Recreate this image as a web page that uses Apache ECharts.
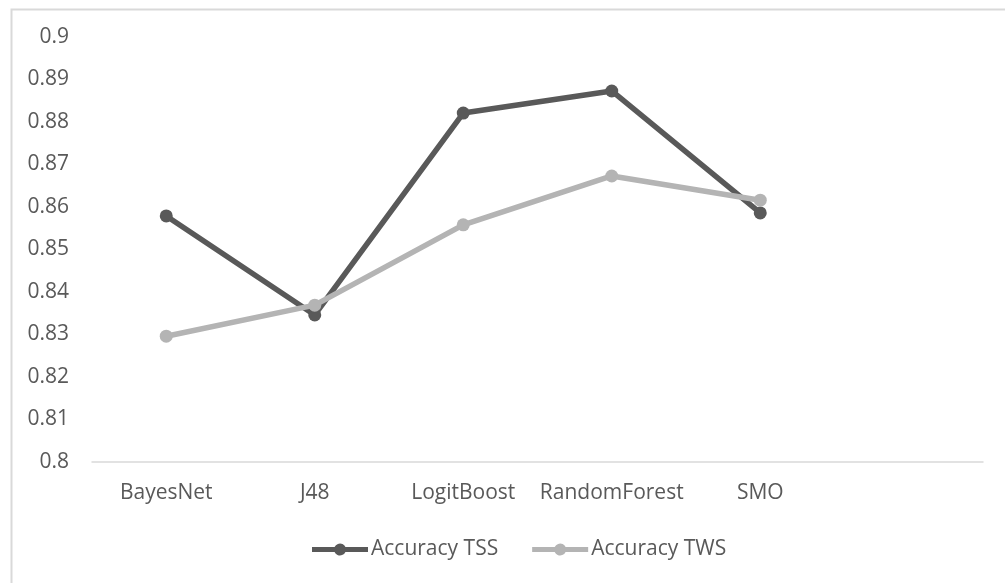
<!DOCTYPE html>
<html>
<head>
<meta charset="utf-8">
<script src="https://cdn.jsdelivr.net/npm/echarts@6/dist/echarts.min.js"></script>
<style>
html,body{margin:0;padding:0;background:#fff;}
#chart{width:1005px;height:583px;}
</style>
</head>
<body>
<div id="chart"></div>
<script>
const categories = ['BayesNet', 'J48', 'LogitBoost', 'RandomForest', 'SMO', ''];
const accuracyTSS = [0.8579, 0.8346, 0.8821, 0.8873, 0.8586];
const accuracyTWS = [0.8296, 0.8369, 0.8558, 0.8673, 0.8616];
const seriesNames = ['Accuracy TSS', 'Accuracy TWS'];
const yMin = 0.8, yMax = 0.9, yInterval = 0.01;

const FONT = '"Open Sans", "Noto Sans", sans-serif';
const ICON = 'path://M0,3.5 L22.55,3.5 A6,6 0 0 1 33.45,3.5 L56,3.5 L56,8.5 L33.45,8.5 A6,6 0 0 1 22.55,8.5 L0,8.5 Z';
const chart = echarts.init(document.getElementById('chart'), null, {renderer: 'canvas'});
chart.setOption({
  animation: false,
  backgroundColor: '#ffffff',
  graphic: [{
    type: 'rect', left: 9, top: 7, silent: true,
    shape: {width: 1100, height: 700},
    style: {fill: 'none', stroke: '#d9d9d9', lineWidth: 2}
  }],
  grid: {left: 92, right: 22, top: 37, bottom: 121, containLabel: false},
  legend: {
    top: 534, left: 307, itemGap: 34, itemWidth: 56, itemHeight: 12,
    icon: ICON,
    textStyle: {fontFamily: FONT, fontSize: 21, color: '#595959', padding: [0,0,0,-2]},
    data: seriesNames
  },
  xAxis: {
    type: 'category', data: categories, boundaryGap: true,
    axisLine: {lineStyle: {color: '#d9d9d9', width: 1.5}},
    axisTick: {show: false},
    axisLabel: {fontFamily: FONT, fontSize: 21, color: '#595959', margin: 21, interval: 0}
  },
  yAxis: {
    type: 'value', min: yMin, max: yMax, interval: yInterval,
    axisLine: {show: false}, axisTick: {show: false},
    splitLine: {show: false},
    axisLabel: {fontFamily: FONT, fontSize: 21, color: '#595959', margin: 23,
      formatter: v => String(parseFloat(v.toFixed(2)))}
  },
  series: [
    {name: seriesNames[0], type: 'line', data: accuracyTSS, symbol: 'circle', symbolSize: 13,
     lineStyle: {color: '#595959', width: 5.5}, itemStyle: {color: '#595959'}, z: 2},
    {name: seriesNames[1], type: 'line', data: accuracyTWS, symbol: 'circle', symbolSize: 13,
     lineStyle: {color: '#b4b4b4', width: 5.5}, itemStyle: {color: '#b4b4b4'}, z: 3}
  ]
});
</script>
</body>
</html>
